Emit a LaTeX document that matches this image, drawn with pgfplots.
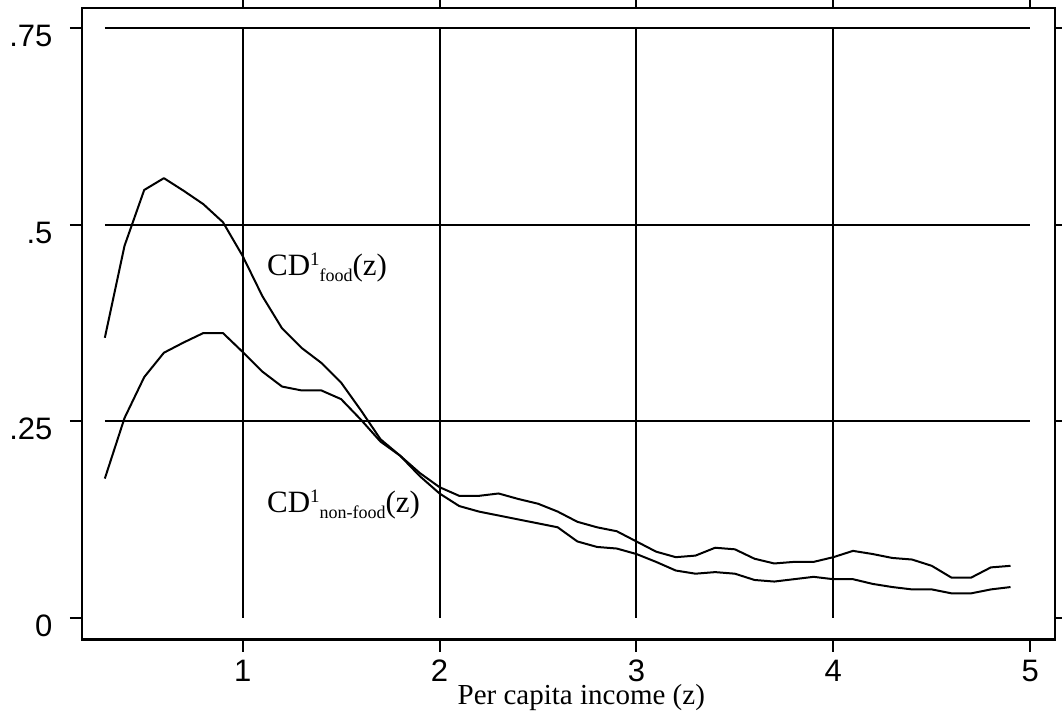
\documentclass[border=0pt]{standalone}
\usepackage{fontspec}
\setmainfont{Liberation Serif}
\newfontfamily\arial{Liberation Sans}
\usepackage{pgfplots}
\pgfplotsset{compat=1.18}

\pgfplotstableread{
x food nonfood
0.3 0.356 0.177
0.4 0.473 0.254
0.5 0.544 0.306
0.6 0.559 0.337
0.7 0.543 0.350
0.8 0.526 0.362
0.9 0.503 0.362
1.0 0.460 0.338
1.1 0.409 0.313
1.2 0.368 0.294
1.3 0.343 0.289
1.4 0.324 0.289
1.5 0.299 0.278
1.6 0.264 0.252
1.7 0.227 0.224
1.8 0.206 0.206
1.9 0.180 0.184
2.0 0.158 0.166
2.1 0.142 0.155
2.2 0.135 0.155
2.3 0.130 0.158
2.4 0.125 0.151
2.5 0.120 0.145
2.6 0.115 0.135
2.7 0.097 0.122
2.8 0.090 0.115
2.9 0.088 0.110
3.0 0.081 0.097
3.1 0.071 0.084
3.2 0.060 0.077
3.3 0.056 0.079
3.4 0.058 0.089
3.5 0.056 0.087
3.6 0.048 0.075
3.7 0.046 0.069
3.8 0.049 0.071
3.9 0.052 0.071
4.0 0.049 0.077
4.1 0.049 0.085
4.2 0.043 0.081
4.3 0.039 0.076
4.4 0.036 0.074
4.5 0.036 0.066
4.6 0.031 0.051
4.7 0.031 0.051
4.8 0.036 0.064
4.9 0.039 0.066
}\datatable

\begin{document}
\begin{tikzpicture}[x=1pt,y=1pt]
\begin{axis}[
  at={(0,0)}, anchor=south west,
  scale only axis, width=973pt, height=631.5pt,
  xmin=0.184, xmax=5.126, ymin=-0.0277, ymax=0.7754,
  axis line style={line width=2.5pt, black},
  xtick={1,2,3,4,5}, ytick={0,0.25,0.5,0.75},
  xticklabels={1,2,3,4,5},
  yticklabels={0,.25,.5,.75},
  xtick pos=both, ytick pos=both,
  ticklabel pos=left,
  tick align=outside,
  major tick length=12pt,
  tick style={line width=2pt, black},
  ticklabel style={font=\arial\fontsize{31}{31}\selectfont},
  yticklabel style={xshift=-14pt, yshift=-8pt},
  xticklabel style={inner sep=0pt, anchor=north, yshift=-8pt},
  xlabel={Per capita income (z)},
  xlabel style={at={(rel axis cs:0,0)}, anchor=base west, xshift=375.5pt, yshift=-64.5pt, inner sep=0pt, font=\fontsize{29}{29}\selectfont},
  clip=false,
]
\draw[line width=2pt] (axis cs:0.3,0.25) -- (axis cs:5,0.25);
\draw[line width=2pt] (axis cs:0.3,0.5) -- (axis cs:5,0.5);
\draw[line width=2pt] (axis cs:0.3,0.75) -- (axis cs:5,0.75);
\draw[line width=2pt] (axis cs:1,0) -- (axis cs:1,0.75);
\draw[line width=2pt] (axis cs:2,0) -- (axis cs:2,0.75);
\draw[line width=2pt] (axis cs:3,0) -- (axis cs:3,0.75);
\draw[line width=2pt] (axis cs:4,0) -- (axis cs:4,0.75);
\addplot[black, line width=2pt, no markers, line join=round] table[x=x, y=food] {\datatable};
\addplot[black, line width=2pt, no markers, line join=round] table[x=x, y=nonfood] {\datatable};
\node[anchor=base west, inner sep=0pt, font=\fontsize{31}{31}\selectfont] at (axis cs:1.123,0.4358)
  {CD{\fontsize{19}{19}\selectfont\raisebox{10pt}{1}}{\fontsize{18}{18}\selectfont\raisebox{-6pt}{food}}(z)};
\node[anchor=base west, inner sep=0pt, font=\fontsize{31}{31}\selectfont] at (axis cs:1.123,0.1332)
  {CD{\fontsize{19}{19}\selectfont\raisebox{10pt}{1}}{\fontsize{18}{18}\selectfont\raisebox{-6pt}{non-food}}(z)};
\end{axis}
\pgfresetboundingbox
\path[use as bounding box] (-82,-76.5) rectangle (980,639.5);
\end{tikzpicture}
\end{document}
